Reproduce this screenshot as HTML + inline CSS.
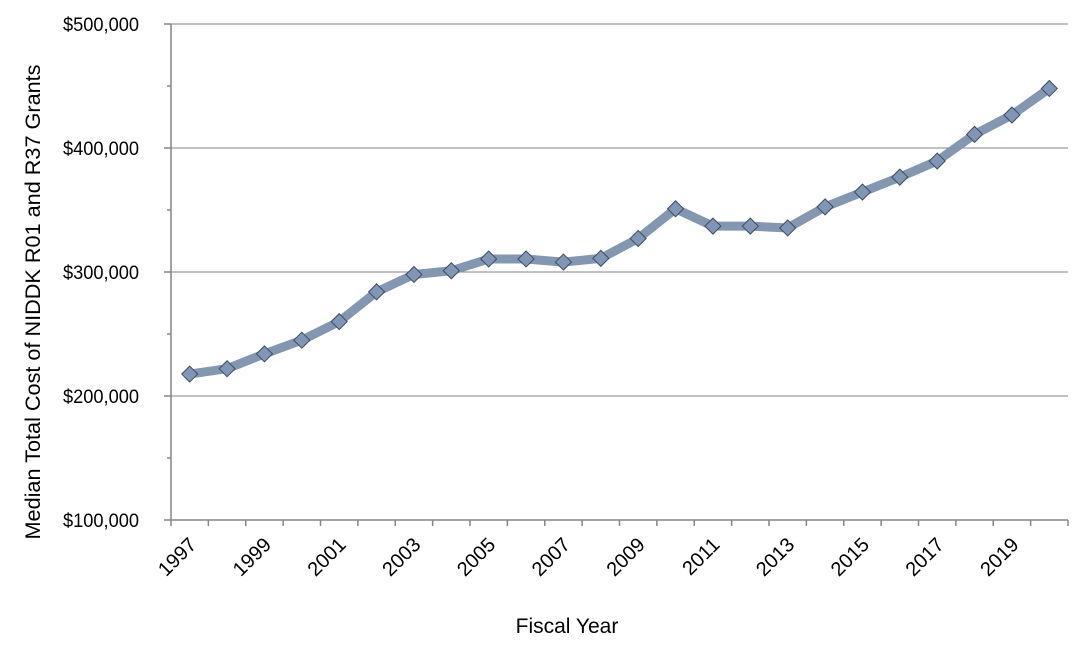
<!DOCTYPE html>
<html><head><meta charset="utf-8"><style>
body{margin:0;background:#fff;}
svg text{font-family:"Liberation Sans",sans-serif;fill:#000;}
</style></head><body>
<svg id="chart" width="1091" height="650" xmlns="http://www.w3.org/2000/svg"></svg>
<script>
const years=["1997","1998","1999","2000","2001","2002","2003","2004","2005","2006","2007","2008","2009","2010","2011","2012","2013","2014","2015","2016","2017","2018","2019","2020"];
const values=[217700,222000,234000,245000,260000,284000,298000,301000,310500,310500,308000,311000,327000,351000,337000,337000,335500,352500,364500,376500,389500,411000,426600,448000];
const yTicks=[100000,200000,300000,400000,500000];
const yTickLabels=["$100,000","$200,000","$300,000","$400,000","$500,000"];
const NS="http://www.w3.org/2000/svg";
const svg=document.getElementById('chart');
const L=171,R=1068,T=24,B=520;
const yMin=100000,yMax=500000;
const bw=(R-L)/years.length;
function xs(i){return L+bw*(i+0.5);}
function ys(v){return B-(v-yMin)/(yMax-yMin)*(B-T);}
function mk(tag,attrs,parent){const e=document.createElementNS(NS,tag);for(const k in attrs)e.setAttribute(k,attrs[k]);(parent||svg).appendChild(e);return e;}
yTicks.forEach((v,i)=>{
  if(i>0){const g=mk('line',{x1:L,x2:R,y1:ys(v),y2:ys(v),stroke:'#868686','stroke-width':1});
  
  }
  const t=mk('line',{x1:L-7,x2:L,y1:ys(v),y2:ys(v),stroke:'#868686','stroke-width':1.5});
  
  
  const tx=mk('text',{x:L-32,y:ys(v)+7,'text-anchor':'end','font-size':19,textLength:76,lengthAdjust:'spacingAndGlyphs'});
  tx.textContent=yTickLabels[i];
  
  
  if(i<yTicks.length-1){const mv=(v+yTicks[i+1])/2;
    const m=mk('line',{x1:L-4,x2:L,y1:ys(mv),y2:ys(mv),stroke:'#868686','stroke-width':1.5});
    
    }
});
const ya=mk('line',{x1:L,x2:L,y1:T,y2:B,stroke:'#868686','stroke-width':1.5});


const xa=mk('line',{x1:L,x2:R,y1:B,y2:B,stroke:'#868686','stroke-width':1.5});


for(let i=0;i<=years.length;i++){
  const t=mk('line',{x1:L+bw*i,x2:L+bw*i,y1:B,y2:B+6,stroke:'#868686','stroke-width':1.5});
  
  
}
years.forEach((y,i)=>{
  if(i%2)return;
  const x=xs(i)-2,yy=B+16;
  const t=mk('text',{x:x,y:yy,'text-anchor':'end','font-size':20,transform:`rotate(-45 ${x} ${yy})`,dy:'0.7em'});
  t.textContent=y;
  
  
});
const pts=values.map((v,i)=>xs(i)+','+ys(v)).join(' ');
const ln=mk('polyline',{points:pts,fill:'none',stroke:'#8497b0','stroke-width':9,'stroke-linejoin':'round','stroke-linecap':'round'});


values.forEach((v,i)=>{
  const x=xs(i),y=ys(v),s=8;
  const d=mk('polygon',{points:`${x},${y-s} ${x+s},${y} ${x},${y+s} ${x-s},${y}`,fill:'#8195b5',stroke:'#3e4c63','stroke-width':1});
  
  
});
const xt=mk('text',{x:567,y:633,'text-anchor':'middle','font-size':21});
xt.textContent='Fiscal Year';


const yt=mk('text',{x:0,y:0,'text-anchor':'middle','font-size':21,textLength:475,lengthAdjust:'spacingAndGlyphs',transform:'translate(40 302) rotate(-90)'});
yt.textContent='Median Total Cost of NIDDK R01 and R37 Grants';


</script>
</body></html>
